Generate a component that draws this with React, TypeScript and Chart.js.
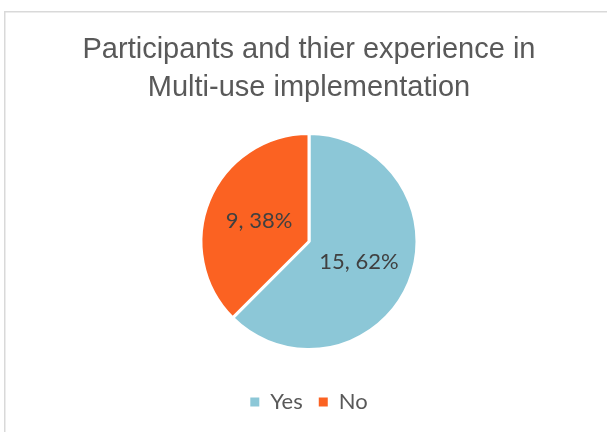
import React, { useEffect, useRef } from "react";
import { Chart, registerables } from "chart.js";

Chart.register(...registerables);

const titleLines = ["Participants and thier experience in", "Multi-use implementation"];
const categories = ["Yes", "No"];
const counts = [15, 9];
const percents = [62, 38];
const sliceColors = ["#8CC7D7", "#FB6222"];

const frameBorder = {
  id: "frameBorder",
  beforeDraw(chart: any) {
    const ctx = chart.ctx;
    ctx.save();
    ctx.fillStyle = "#ffffff";
    ctx.fillRect(0, 0, chart.width, chart.height);
    ctx.strokeStyle = "#D9D9D9";
    ctx.lineWidth = 1.5;
    ctx.strokeRect(4.75, 11.75, chart.width + 20, chart.height + 20);
    ctx.restore();
  },
};

const sliceLabels = {
  id: "sliceLabels",
  afterDatasetsDraw(chart: any) {
    const ctx = chart.ctx;
    const meta = chart.getDatasetMeta(0);
    ctx.save();
    ctx.font = "22px Lato";
    ctx.fillStyle = "#404040";
    ctx.textAlign = "center";
    ctx.textBaseline = "middle";
    meta.data.forEach((arc: any, i: number) => {
      const p = arc.tooltipPosition();
      ctx.fillText(`${counts[i]}, ${percents[i]}%`, p.x, p.y);
    });
    ctx.restore();
  },
};

export default function App() {
  const ref = useRef<HTMLCanvasElement>(null);
  useEffect(() => {
    if (!ref.current) return;
    const chart = new Chart(ref.current, {
      type: "pie",
      data: {
        labels: categories,
        datasets: [
          {
            data: counts,
            backgroundColor: sliceColors,
            borderColor: "#ffffff",
            borderWidth: 3,
            radius: 108,
          } as any,
        ],
      },
      options: {
        animation: false,
        responsive: false,
        layout: { padding: { left: 11, right: 0, top: 0, bottom: 9 } },
        plugins: {
          title: {
            display: true,
            text: titleLines,
            color: "#595959",
            font: { family: "'Liberation Sans', Arial, sans-serif", size: 29, weight: "normal", lineHeight: 1.31 },
            padding: { top: 31, bottom: 1 },
          },
          legend: {
            position: "bottom",
            labels: {
              boxWidth: 9,
              boxHeight: 9,
              padding: 16,
              color: "#595959",
              font: { family: "Lato", size: 22 },
              generateLabels(chart: any) {
                const items = Chart.overrides.pie.plugins.legend.labels.generateLabels(chart);
                return items.map((it: any) => ({ ...it, lineWidth: 0, strokeStyle: "rgba(0,0,0,0)" }));
              },
            },
          },
          tooltip: { enabled: false },
        },
      },
      plugins: [frameBorder, sliceLabels],
    });
    return () => chart.destroy();
  }, []);
  return (
    <div style={{ position: "fixed", left: 0, top: 0, width: 607, height: 432, background: "#fff" }}>
      <canvas ref={ref} width={607} height={432} style={{ display: "block", width: 607, height: 432 }} />
    </div>
  );
}
